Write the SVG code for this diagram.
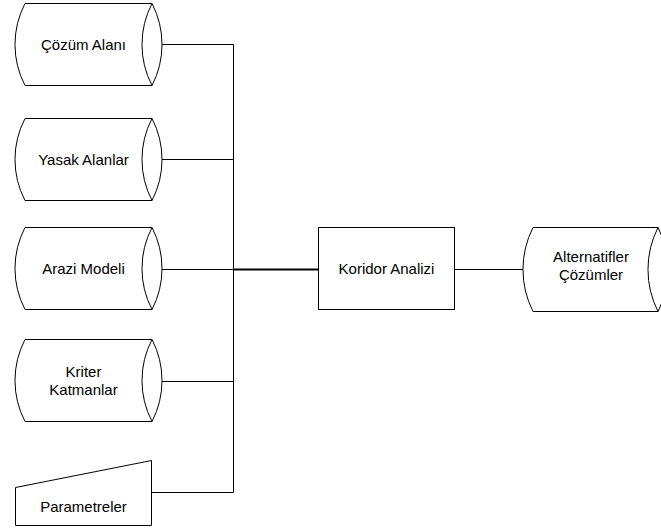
<svg xmlns="http://www.w3.org/2000/svg" width="661" height="531" viewBox="0 0 661 531">
<style>
.s{fill:#fff;stroke:#000;stroke-width:1}
.n{fill:none;stroke:#000;stroke-width:1}
.t{font-family:"Liberation Sans",Arial,sans-serif;font-size:15px;fill:#000;text-anchor:middle}
.c{fill:none;stroke:#000;stroke-width:1}
</style>
<rect width="661" height="531" fill="#fff"/>
<g id="connectors">
<path class="c" d="M152,44.5H233.5V492.5H152"/>
<path class="c" d="M152,159.5H233.5"/>
<path class="c" d="M152,269.5H233.5"/>
<path class="c" d="M152,381.5H233.5"/>
<path d="M233.5,269.5H318" stroke="#000" stroke-width="2" fill="none"/>
<path class="c" d="M455,269.5H523"/>
</g>
<g id="cozum-alani">
<path class="s" d="M25,3.5H152A89,89 0 0 1 152,85.5H25A89,89 0 0 1 25,3.5Z"/>
<path class="n" d="M152,3.5A89,89 0 0 0 152,85.5"/>
<text class="t" x="83.5" y="49.5">Çözüm Alanı</text>
</g>
<g id="yasak-alanlar">
<path class="s" d="M25,118.5H152A89,89 0 0 1 152,200.5H25A89,89 0 0 1 25,118.5Z"/>
<path class="n" d="M152,118.5A89,89 0 0 0 152,200.5"/>
<text class="t" x="83.5" y="164.5">Yasak Alanlar</text>
</g>
<g id="arazi-modeli">
<path class="s" d="M25,227.5H152A89,89 0 0 1 152,309.5H25A89,89 0 0 1 25,227.5Z"/>
<path class="n" d="M152,227.5A89,89 0 0 0 152,309.5"/>
<text class="t" x="83.5" y="274">Arazi Modeli</text>
</g>
<g id="kriter-katmanlar">
<path class="s" d="M25,339.5H152A89,89 0 0 1 152,421.5H25A89,89 0 0 1 25,339.5Z"/>
<path class="n" d="M152,339.5A89,89 0 0 0 152,421.5"/>
<text class="t" x="83.5" y="377">Kriter</text>
<text class="t" x="83.5" y="395">Katmanlar</text>
</g>
<g id="parametreler">
<path class="s" d="M15.5,487.5L151.5,460.5V525.5H15.5Z"/>
<text class="t" x="83.5" y="512">Parametreler</text>
</g>
<g id="koridor-analizi">
<rect class="s" x="318.5" y="227.5" width="136" height="82"/>
<text class="t" x="386.5" y="274">Koridor Analizi</text>
</g>
<g id="alternatifler-cozumler">
<path class="s" d="M533,227.5H658A93,93 0 0 1 658,311.5H533A93,93 0 0 1 533,227.5Z"/>
<path class="n" d="M658,227.5A93,93 0 0 0 658,311.5"/>
<text class="t" x="591" y="262">Alternatifler</text>
<text class="t" x="591" y="280">Çözümler</text>
</g>
</svg>
